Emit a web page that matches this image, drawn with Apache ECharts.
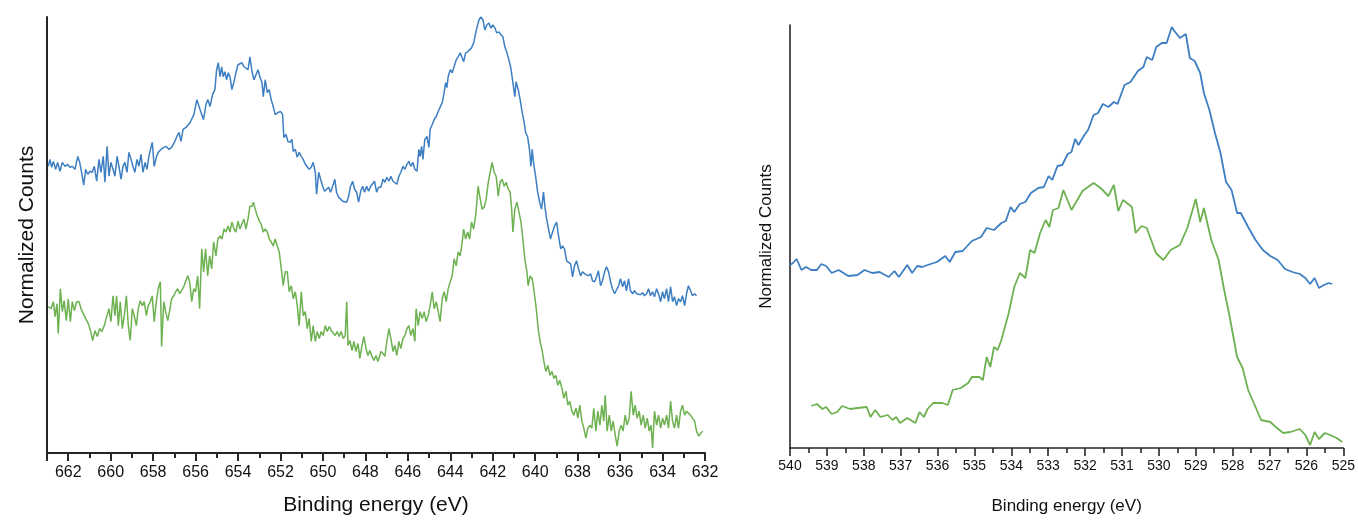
<!DOCTYPE html>
<html>
<head>
<meta charset="utf-8">
<script src="https://cdn.jsdelivr.net/npm/echarts@6/dist/echarts.min.js"></script>
<style>
html,body{margin:0;padding:0;background:#fff;}
#chart{width:1358px;height:521px;}
</style>
</head>
<body>
<div id="chart"></div>
<script>
// ---- Left panel: binding energy (eV) and normalized counts (arb. units)
const leftBlueE = [662.94,662.86,662.78,662.70,662.59,662.50,662.39,662.28,662.15,662.03,661.92,661.81,661.68,661.55,661.46,661.37,661.27,661.18,661.08,660.97,660.87,660.77,660.66,660.55,660.46,660.35,660.27,660.17,660.08,659.99,659.89,659.80,659.70,659.61,659.51,659.42,659.33,659.23,659.14,659.04,658.95,658.86,658.76,658.67,658.57,658.48,658.38,658.29,658.20,658.10,658.04,657.95,657.85,657.76,657.63,657.50,657.38,657.25,657.13,657.00,656.88,656.78,656.69,656.59,656.45,656.26,656.08,655.94,655.79,655.63,655.51,655.42,655.32,655.20,655.09,655.01,654.93,654.85,654.77,654.70,654.62,654.54,654.46,654.38,654.29,654.19,654.10,654.00,653.91,653.82,653.72,653.63,653.53,653.44,653.34,653.25,653.16,653.06,652.97,652.87,652.81,652.72,652.62,652.53,652.44,652.34,652.25,652.12,651.99,651.90,651.84,651.74,651.65,651.55,651.46,651.40,651.30,651.21,651.12,651.02,650.93,650.83,650.74,650.65,650.55,650.46,650.36,650.30,650.20,650.11,650.01,649.92,649.83,649.73,649.64,649.54,649.44,649.36,649.26,649.17,649.07,648.98,648.88,648.79,648.70,648.60,648.51,648.41,648.32,648.22,648.13,648.04,647.94,647.85,647.75,647.66,647.57,647.47,647.38,647.27,647.17,647.08,646.99,646.89,646.80,646.70,646.61,646.52,646.42,646.33,646.23,646.14,646.04,645.95,645.86,645.76,645.67,645.57,645.48,645.42,645.35,645.29,645.20,645.10,645.01,644.95,644.85,644.76,644.66,644.57,644.48,644.38,644.29,644.22,644.16,644.10,644.00,643.91,643.82,643.72,643.63,643.53,643.44,643.37,643.28,643.18,643.09,643.00,642.90,642.84,642.75,642.65,642.56,642.46,642.37,642.28,642.18,642.09,641.99,641.90,641.81,641.71,641.62,641.52,641.43,641.33,641.24,641.15,641.05,640.96,640.90,640.80,640.71,640.61,640.52,640.45,640.36,640.27,640.20,640.14,640.08,639.98,639.89,639.79,639.70,639.61,639.54,639.46,639.37,639.28,639.18,639.09,638.99,638.90,638.80,638.71,638.62,638.52,638.43,638.33,638.24,638.15,638.05,637.96,637.86,637.77,637.67,637.58,637.49,637.39,637.30,637.20,637.11,637.02,636.92,636.83,636.73,636.64,636.54,636.45,636.36,636.26,636.17,636.07,635.98,635.88,635.79,635.70,635.60,635.51,635.41,635.32,635.22,635.13,635.04,634.94,634.85,634.75,634.66,634.57,634.47,634.38,634.28,634.19,634.09,634.00,633.91,633.81,633.72,633.62,633.53,633.44,633.34,633.25,633.15,633.06,632.96,632.87,632.78,632.68,632.59,632.49,632.40];
const leftBlueV = [288,295,287,293,285,292,283,292,288,290,287,288,285,298,292,282,269,285,280,283,282,288,273,295,282,298,272,308,278,292,285,278,298,288,275,288,292,282,302,295,288,282,295,288,300,282,292,285,298,307,312,288,297,302,305,307,308,305,307,312,318,322,313,325,327,332,340,355,345,335,350,355,348,360,365,385,392,378,388,378,383,375,382,378,365,373,382,390,388,392,388,390,385,398,383,375,375,385,378,372,358,375,362,365,355,348,340,342,343,340,317,320,313,312,315,303,305,297,302,298,295,290,292,285,287,292,282,260,282,275,268,263,262,267,262,268,275,262,257,255,253,255,252,258,268,273,265,262,252,263,268,262,268,263,268,268,273,262,267,267,275,272,277,273,278,273,275,270,278,282,288,285,290,293,288,292,285,283,305,298,308,295,315,318,307,325,330,335,338,343,345,352,362,372,367,378,385,382,388,395,398,402,400,393,402,403,405,407,412,418,427,435,438,435,425,430,432,427,430,427,422,423,422,418,408,402,395,387,372,358,373,365,355,342,332,322,318,305,288,305,292,278,263,252,245,262,247,235,225,215,222,228,232,218,205,208,205,193,195,190,177,188,193,185,178,182,180,182,178,180,173,172,177,183,168,173,182,187,182,172,165,160,162,168,175,167,173,163,175,163,160,163,160,162,159,161,158,160,165,158,162,157,165,160,152,162,155,165,152,167,152,157,148,155,152,158,148,160,168,163,158,160,158];
const leftGreenE = [662.94,662.81,662.70,662.62,662.53,662.47,662.37,662.28,662.19,662.09,662.00,661.90,661.81,661.71,661.60,661.49,661.40,661.29,661.18,661.05,660.94,660.85,660.74,660.63,660.52,660.42,660.30,660.19,660.08,659.99,659.89,659.80,659.72,659.64,659.55,659.45,659.36,659.26,659.17,659.08,658.98,658.89,658.79,658.70,658.61,658.51,658.42,658.32,658.23,658.13,658.04,657.95,657.85,657.76,657.66,657.60,657.50,657.41,657.31,657.22,657.13,657.03,656.94,656.84,656.75,656.66,656.56,656.47,656.37,656.28,656.18,656.09,656.00,655.90,655.81,655.71,655.62,655.53,655.43,655.34,655.24,655.15,655.04,654.95,654.85,654.76,654.66,654.57,654.47,654.38,654.29,654.19,654.10,654.00,653.91,653.82,653.72,653.63,653.53,653.44,653.34,653.28,653.19,653.09,653.00,652.91,652.81,652.72,652.62,652.53,652.44,652.34,652.25,652.15,652.06,651.96,651.87,651.78,651.68,651.59,651.49,651.40,651.30,651.21,651.12,651.02,650.93,650.83,650.74,650.65,650.55,650.46,650.36,650.27,650.17,650.08,649.99,649.89,649.80,649.70,649.61,649.52,649.42,649.33,649.23,649.14,649.04,648.95,648.88,648.82,648.73,648.63,648.54,648.45,648.35,648.26,648.16,648.07,647.97,647.88,647.79,647.69,647.60,647.50,647.41,647.36,647.27,647.17,647.08,646.99,646.89,646.80,646.70,646.61,646.52,646.42,646.33,646.23,646.14,646.04,645.95,645.86,645.76,645.67,645.61,645.51,645.42,645.32,645.23,645.14,645.04,644.95,644.85,644.76,644.66,644.57,644.48,644.38,644.29,644.19,644.10,644.00,643.91,643.82,643.72,643.63,643.53,643.44,643.37,643.28,643.18,643.09,643.00,642.90,642.81,642.75,642.69,642.59,642.50,642.40,642.31,642.21,642.12,642.03,641.93,641.84,641.74,641.65,641.56,641.46,641.37,641.27,641.18,641.11,641.05,640.96,640.86,640.77,640.67,640.58,640.49,640.39,640.33,640.24,640.14,640.05,639.95,639.86,639.77,639.69,639.59,639.50,639.40,639.31,639.21,639.12,639.03,638.93,638.84,638.74,638.65,638.55,638.46,638.37,638.27,638.18,638.08,637.99,637.90,637.80,637.71,637.61,637.52,637.42,637.33,637.24,637.14,637.05,636.95,636.86,636.77,636.70,636.61,636.51,636.42,636.33,636.23,636.14,636.04,635.95,635.86,635.76,635.67,635.57,635.48,635.38,635.29,635.20,635.10,635.01,634.91,634.82,634.72,634.63,634.54,634.47,634.38,634.28,634.19,634.09,634.00,633.91,633.81,633.72,633.62,633.53,633.44,633.34,633.25,633.15,633.06,632.96,632.87,632.78,632.68,632.59,632.49,632.40,632.30,632.21,632.11];
const leftGreenV = [147,145,152,137,150,120,165,142,153,133,155,132,152,143,152,152,145,140,135,130,122,113,123,117,125,122,128,137,145,132,158,138,158,128,152,125,138,158,128,113,145,138,128,145,153,148,152,138,148,152,158,132,152,165,172,107,152,142,133,143,155,158,162,165,160,162,167,165,178,172,152,165,162,178,145,205,182,205,178,198,185,212,198,215,218,215,225,222,228,222,232,225,222,233,225,230,235,225,235,248,248,252,245,238,233,230,222,225,222,215,212,208,215,208,202,185,168,182,182,162,168,155,162,148,128,162,138,142,125,135,112,128,112,122,115,122,118,128,122,127,123,122,118,122,117,122,115,118,152,108,113,103,112,102,110,95,108,117,105,98,103,97,93,98,92,95,102,100,97,112,125,115,102,108,98,112,105,115,118,125,128,118,125,112,145,128,142,135,142,132,138,148,162,145,152,142,132,155,162,152,165,172,178,195,188,202,198,212,225,215,222,215,232,225,238,252,268,255,245,247,255,272,282,292,282,278,258,272,275,268,272,265,262,245,222,245,252,252,232,215,195,182,168,178,175,162,145,125,112,105,92,82,88,78,82,75,78,68,73,65,55,62,48,52,42,38,45,35,48,32,25,15,25,28,25,45,22,42,28,48,32,58,22,38,22,32,18,7,22,28,22,38,28,35,62,38,48,35,42,28,38,25,35,22,28,5,42,28,38,25,35,28,38,25,52,32,25,38,25,42,48,38,42,43,38,35,32,22,17,18,22];
const leftTicks = {min: 632, max: 663, interval: 2};

// ---- Right panel: binding energy (eV) and normalized counts (arb. units)
const rightBlueE = [540.00,539.92,539.82,539.69,539.57,539.42,539.27,539.15,539.02,538.87,538.68,538.42,538.17,537.98,537.77,537.57,537.32,537.17,537.05,536.82,536.69,536.55,536.42,536.27,536.02,535.79,535.67,535.52,535.32,535.07,534.82,534.67,534.47,534.27,534.15,534.02,533.92,533.77,533.62,533.47,533.27,533.12,532.99,532.89,532.75,532.62,532.47,532.37,532.27,532.18,532.02,531.92,531.77,531.65,531.52,531.37,531.22,531.12,530.93,530.77,530.57,530.42,530.33,530.18,530.07,529.92,529.79,529.65,529.58,529.43,529.27,529.16,529.03,528.88,528.78,528.63,528.48,528.33,528.18,528.03,527.88,527.78,527.58,527.38,527.18,526.98,526.78,526.58,526.38,526.18,526.03,525.90,525.78,525.66,525.53,525.40,525.30];
const rightBlueV = [183,185,189,178,181,178,178,184,182,175,178,172,173,178,175,176,171,177,171,183,175,182,181,183,186,192,186,196,197,207,211,220,218,225,227,241,236,244,246,255,260,261,272,268,282,283,294,296,309,303,313,318,333,335,344,341,346,344,363,366,377,381,391,388,401,405,405,421,417,410,414,390,387,375,355,338,315,295,266,258,235,235,221,208,198,192,188,179,176,174,170,164,170,160,163,165,164];
const rightGreenE = [539.42,539.27,539.12,539.02,538.87,538.72,538.59,538.37,538.17,537.92,537.82,537.69,537.55,537.35,537.22,537.12,537.02,536.82,536.60,536.49,536.37,536.27,536.12,535.87,535.72,535.59,535.37,535.17,535.07,534.87,534.77,534.67,534.57,534.47,534.37,534.27,534.07,533.92,533.77,533.62,533.49,533.37,533.22,533.07,532.97,532.87,532.72,532.59,532.37,532.07,531.77,531.58,531.37,531.22,531.10,530.97,530.73,530.63,530.47,530.33,530.08,529.88,529.68,529.43,529.23,529.00,528.88,528.78,528.58,528.38,528.23,528.08,527.88,527.73,527.58,527.38,527.23,526.98,526.83,526.63,526.43,526.18,526.03,525.90,525.78,525.66,525.50,525.36,525.18,525.03];
const rightGreenV = [42,44,39,41,34,36,42,39,40,41,31,38,31,33,28,31,25,30,25,36,31,39,45,45,43,58,60,65,71,71,68,91,81,101,98,108,135,161,175,170,198,195,215,228,221,238,240,258,238,257,265,260,252,263,237,248,241,215,222,220,195,188,198,203,220,249,226,240,208,188,158,131,91,80,58,41,28,26,21,15,16,19,13,3,16,9,15,13,10,6];
const rightTicks = {min: 525, max: 540, interval: 1};

const xLabel = 'Binding energy (eV)';
const yLabel = 'Normalized Counts';

const BLUE = '#3d7fc2';
const GREEN = '#6db150';
const AXIS = '#262626';
const FONT = 'Liberation Sans, Arial, sans-serif';

function pairs(e, v){ return e.map((x,i)=>[x, v[i]]); }

const chart = echarts.init(document.getElementById('chart'), null, {renderer:'canvas'});

function xAxisDef(grid, t, fs, nameFs, nameGap, lw, margin, showMax){
  return {
    type:'value', gridIndex:grid, inverse:true,
    min:t.min, max:t.max, interval:t.interval,
    name:xLabel, nameLocation:'middle', nameGap:nameGap,
    nameTextStyle:{fontFamily:FONT, fontSize:nameFs, color:'#111'},
    axisLine:{show:true, lineStyle:{color:AXIS, width:lw}},
    axisTick:{show:true, length:8, lineStyle:{color:AXIS, width:lw}},
    minorTick:{show:true, splitNumber:2, length:5, lineStyle:{color:AXIS, width:lw}},
    axisLabel:{fontFamily:FONT, fontSize:fs, color:'#111', margin:margin, showMaxLabel:showMax, showMinLabel:true},
    splitLine:{show:false}
  };
}
function yAxisDef(grid, max, nameFs, nameGap, lw){
  return {
    type:'value', gridIndex:grid, min:0, max:max,
    name:yLabel, nameLocation:'middle', nameGap:nameGap, nameRotate:90,
    nameTextStyle:{fontFamily:FONT, fontSize:nameFs, color:'#111'},
    axisLine:{show:true, lineStyle:{color:AXIS, width:lw}},
    axisTick:{show:false}, axisLabel:{show:false}, splitLine:{show:false}
  };
}

chart.setOption({
  animation:false,
  backgroundColor:'#fff',
  grid:[
    {left:47, right:653, top:17, bottom:66},
    {left:790, right:12, top:25, bottom:73}
  ],
  xAxis:[
    xAxisDef(0, leftTicks, 16, 21, 42, 2, 12, false),
    xAxisDef(1, rightTicks, 14, 17, 50, 1.6, 11, true)
  ],
  yAxis:[
    yAxisDef(0, 438, 21, 9, 2),
    yAxisDef(1, 423, 17, 15, 1.6)
  ],
  series:[
    {type:'line', xAxisIndex:0, yAxisIndex:0, data:pairs(leftBlueE, leftBlueV), showSymbol:false, lineStyle:{color:BLUE, width:1.5}, itemStyle:{color:BLUE}},
    {type:'line', xAxisIndex:0, yAxisIndex:0, data:pairs(leftGreenE, leftGreenV), showSymbol:false, lineStyle:{color:GREEN, width:1.5}, itemStyle:{color:GREEN}},
    {type:'line', xAxisIndex:1, yAxisIndex:1, data:pairs(rightBlueE, rightBlueV), showSymbol:false, lineStyle:{color:BLUE, width:1.8}, itemStyle:{color:BLUE}},
    {type:'line', xAxisIndex:1, yAxisIndex:1, data:pairs(rightGreenE, rightGreenV), showSymbol:false, lineStyle:{color:GREEN, width:1.8}, itemStyle:{color:GREEN}}
  ]
});
</script>
</body>
</html>
